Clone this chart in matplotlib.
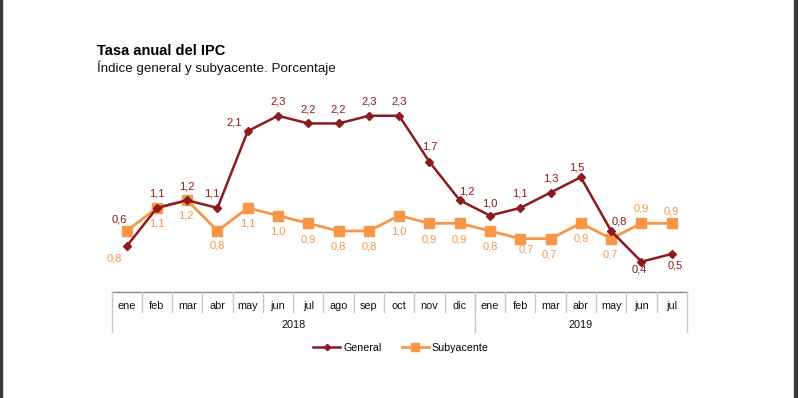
import matplotlib
matplotlib.use("Agg")
import matplotlib.pyplot as plt
from matplotlib.patches import Rectangle
from matplotlib.lines import Line2D

plt.rcParams['font.family'] = ['Liberation Sans', 'DejaVu Sans']

months = ["ene", "feb", "mar", "abr", "may", "jun", "jul", "ago", "sep", "oct", "nov", "dic",
          "ene", "feb", "mar", "abr", "may", "jun", "jul"]
years = ["2018", "2019"]
year_counts = [12, 7]
general = [0.6, 1.1, 1.2, 1.1, 2.1, 2.3, 2.2, 2.2, 2.3, 2.3, 1.7, 1.2,
           1.0, 1.1, 1.3, 1.5, 0.8, 0.4, 0.5]
subyacente = [0.8, 1.1, 1.2, 0.8, 1.1, 1.0, 0.9, 0.8, 0.8, 1.0, 0.9, 0.9,
              0.8, 0.7, 0.7, 0.9, 0.7, 0.9, 0.9]

# label offsets in pixels (dx, dy) with dy positive = up
gen_off = [(-7, 27), (0, 14), (0, 14), (-6, 14), (-14, 9), (0, 14), (0, 14), (0, 14), (0, 14), (0, 14),
           (0, 15), (7, 9), (0, 12), (0, 14), (0, 14), (-4, 10), (8, 9), (-2, -8), (4, -12)]
sub_off = [(-12, -28), (0, -16), (-1, -15), (0, -15), (0, -16), (0, -16), (0, -16), (0, -16), (0, -16), (0, -16),
           (0, -16), (0, -16), (0, -16), (6, -11), (-1, -16), (0, -15), (-1, -16), (0, 15), (0, 12)]

GEN_C = "#8C1A1E"
SUB_C = "#F79646"

W, H = 798, 398
fig = plt.figure(figsize=(W / 100, H / 100), dpi=100)

px_per_unit = 76.8
y0 = 292.4
left, right = 111.5, 686.8
ymax = 2.5
ax = fig.add_axes([left / W, (H - y0) / H, (right - left) / W, ymax * px_per_unit / H])
n = len(months)
x = list(range(n))
ax.set_xlim(-0.5, n - 0.5)
ax.set_ylim(0, ymax)
ax.axis("off")

ax.plot(x, subyacente, color=SUB_C, lw=2.0, marker="s", ms=6.5, label="Subyacente", zorder=3)
ax.plot(x, general, color=GEN_C, lw=1.8, marker="D", ms=3.8, label="General", zorder=4)

for i in x:
    dx, dy = gen_off[i]
    ax.annotate(f"{general[i]:.1f}".replace(".", ","), (i, general[i]), xytext=(dx * 0.72, dy * 0.72),
                textcoords="offset points", ha="center", va="center", fontsize=8, color=GEN_C)
    dx, dy = sub_off[i]
    ax.annotate(f"{subyacente[i]:.1f}".replace(".", ","), (i, subyacente[i]), xytext=(dx * 0.72, dy * 0.72),
                textcoords="offset points", ha="center", va="center", fontsize=8, color=SUB_C)

# category table below the axis
ah = ymax * px_per_unit
tr = ax.get_xaxis_transform()
ax.plot([-0.5, n - 0.5], [0, 0], transform=tr, color="#8a8a8a", lw=1.0, clip_on=False)
for i in range(1, n):
    ax.plot([i - 0.5, i - 0.5], [0, -19.5 / ah], transform=tr, color="#c8c8c8", lw=1.0, clip_on=False)
bounds = [-0.5]
for c in year_counts:
    bounds.append(bounds[-1] + c)
for b in bounds:
    ax.plot([b, b], [0, -39.5 / ah], transform=tr, color="#c8c8c8", lw=1.0, clip_on=False)
for i, m in enumerate(months):
    ax.text(i, -13.5 / ah, m, transform=tr, ha="center", va="center", fontsize=7.8, color="#111111")
for k, yname in enumerate(years):
    ax.text((bounds[k] + bounds[k + 1]) / 2, -33 / ah, yname, transform=tr, ha="center", va="center",
            fontsize=7.8, color="#111111")

handles = [Line2D([], [], color=GEN_C, lw=1.8, marker="D", ms=3.2),
           Line2D([], [], color=SUB_C, lw=2.0, marker="s", ms=6)]
fig.legend(handles, ["General", "Subyacente"], loc="center", bbox_to_anchor=(401 / W, 1 - 348 / H),
           ncol=2, frameon=False, fontsize=7.7, handlelength=2.5, handletextpad=0.3, columnspacing=1.9,
           borderpad=0)

fig.text(97 / W, 1 - 51 / H, "Tasa anual del IPC", ha="left", va="center", fontsize=10.5,
         fontweight="bold", color="#000000")
fig.text(97 / W, 1 - 67.5 / H, "Índice general y subyacente. Porcentaje", ha="left", va="center",
         fontsize=9.6, color="#111111")

fig.patches.append(Rectangle((0, 0), 2.3 / W, 1, transform=fig.transFigure, color="#3a3a3a"))
fig.patches.append(Rectangle((794 / W, 0), 4 / W, 1, transform=fig.transFigure, color="#3a3a3a"))

fig.savefig("out.png", dpi=100)
